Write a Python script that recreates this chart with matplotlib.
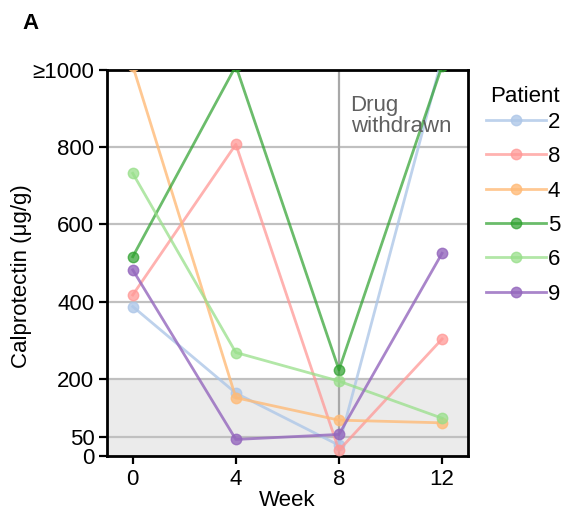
import matplotlib
matplotlib.use("Agg")
import matplotlib.pyplot as plt

weeks = [0, 4, 8, 12]
patients = ["2", "8", "4", "5", "6", "9"]
p2 = [387, 163, 28, 1030]
p8 = [417, 807, 15, 303]
p4 = [1010, 151, 93, 86]
p5 = [516, 1010, 223, 1010]
p6 = [732, 268, 194, 98]
p9 = [482, 43, 56, 525]
series = [p2, p8, p4, p5, p6, p9]
colors = ["#aec7e8", "#ff9896", "#ffbb78", "#2ca02c", "#98df8a", "#9467bd"]
alphas = [0.8, 0.75, 0.8, 0.7, 0.75, 0.8]
yticks = [0, 50, 200, 400, 600, 800, 1000]
yticklabels = ["0", "50", "200", "400", "600", "800", "≥1000"]

plt.rcParams['font.family'] = ['Liberation Sans', 'DejaVu Sans']
FS = 16

fig = plt.figure(figsize=(5.63, 5.13), dpi=100)
ax = fig.add_axes([0.190, 0.111, 0.641, 0.753])

ax.axhspan(0, 200, color="#ebebeb", zorder=0)
for y in [50, 200, 400, 600, 800]:
    ax.axhline(y, color="#c0c0c0", lw=1.6, zorder=1)
ax.axvline(8, color="#a8a8a8", lw=1.6, zorder=1)

for name, vals, c, a in zip(patients, series, colors, alphas):
    ax.plot(weeks, vals, color=c, alpha=a, lw=2.0, marker="o", ms=7.5, label=name, zorder=3)

ax.text(8.45, 935, "Drug\nwithdrawn", color="#606060", fontsize=FS, va="top", ha="left", linespacing=1.0)

ax.set_xlim(-1, 13)
ax.set_ylim(0, 1000)
ax.set_xticks([0, 4, 8, 12])
ax.set_yticks(yticks)
ax.set_yticklabels(yticklabels)
ax.tick_params(labelsize=FS, width=1.6, length=6, pad=3)
ax.set_xlabel("Week", fontsize=FS, labelpad=0)
ax.set_ylabel("Calprotectin (μg/g)", fontsize=FS)
ax.yaxis.set_label_coords(-0.208, 0.466)
for s in ax.spines.values():
    s.set_linewidth(2.0)

leg = fig.legend(*ax.get_legend_handles_labels(), loc="upper left",
                 bbox_to_anchor=(0.863, 0.782), bbox_transform=fig.transFigure, frameon=False,
                 fontsize=FS, handlelength=2.7, labelspacing=0.6,
                 handletextpad=0.08, borderpad=0, borderaxespad=0)
fig.text(525 / 563, 1 - 97 / 513, "Patient", fontsize=FS, ha="center", va="center")

fig.text(0.04, 0.955, "A", fontsize=16, fontweight="bold", va="center")

fig.savefig("out.png", dpi=100)
